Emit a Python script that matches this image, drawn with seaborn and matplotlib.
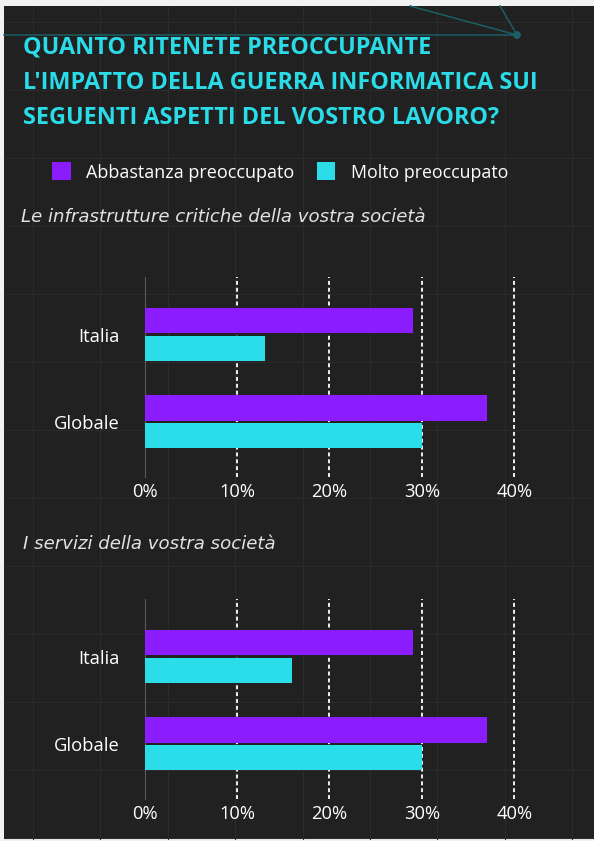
import matplotlib
matplotlib.use("Agg")
import matplotlib.pyplot as plt
from matplotlib.patches import Rectangle, Circle
import seaborn as sns
import pandas as pd

# ---- data ----
regions = ["Italia", "Globale"]
levels = ["Abbastanza preoccupato", "Molto preoccupato"]
infra_abbastanza = [29, 37]
infra_molto = [13, 30]
servizi_abbastanza = [29, 37]
servizi_molto = [16, 30]
xticks = [0, 10, 20, 30, 40]
xtick_labels = ["0%", "10%", "20%", "30%", "40%"]
title_lines = ["QUANTO RITENETE PREOCCUPANTE",
               "L'IMPATTO DELLA GUERRA INFORMATICA SUI",
               "SEGUENTI ASPETTI DEL VOSTRO LAVORO?"]
subtitles = ["Le infrastrutture critiche della vostra società",
             "I servizi della vostra società"]

PURPLE = "#8B1CFD"
CYAN = "#2BDDE9"
BG = "#212121"
FONT = ["Open Sans", "DejaVu Sans"]
plt.rcParams["font.family"] = FONT

W, H = 594, 841
fig = plt.figure(figsize=(W / 100, H / 100), dpi=100)
fig.patch.set_facecolor("#f2f2f2")

# background panel in pixel coordinates
bg = fig.add_axes([0, 0, 1, 1])
bg.set_xlim(0, W)
bg.set_ylim(H, 0)
bg.axis("off")
bg.add_patch(Rectangle((4, 6), W - 4, H - 8, facecolor=BG, edgecolor="none", zorder=0))
for gx in [33, 100, 168, 235, 303, 370, 437, 505, 572]:
    bg.plot([gx, gx], [6, H - 2], color="#2b2b2b", lw=0.8, zorder=1)
for gy in [22, 90, 158, 226, 294, 362, 430, 498, 566, 634, 702, 770, 838]:
    bg.plot([4, W], [gy, gy], color="#2b2b2b", lw=0.8, zorder=1)
# decorative teal lines
teal = "#1b5f64"
bg.plot([4, 517], [35, 35], color=teal, lw=1.1, zorder=2)
bg.plot([410, 517], [6, 35], color=teal, lw=1.1, zorder=2)
bg.plot([500, 517], [6, 35], color=teal, lw=1.1, zorder=2)
bg.add_patch(Circle((517, 35), 3.2, color=teal, zorder=3))

# title
for i, line in enumerate(title_lines):
    bg.text(23, 53.5 + 35.2 * i, line, color="#2ADCE8", fontsize=16.8,
            fontweight="bold", va="baseline", ha="left", zorder=5)

# legend
bg.add_patch(Rectangle((52, 162), 19, 18, facecolor=PURPLE, edgecolor="none", zorder=5))
bg.text(86, 177.7, levels[0], color="white", fontsize=13, va="baseline", ha="left", zorder=5)
bg.add_patch(Rectangle((317, 162), 18, 18, facecolor=CYAN, edgecolor="none", zorder=5))
bg.text(351, 177.7, levels[1], color="white", fontsize=12.8, va="baseline", ha="left", zorder=5)

# subtitles
sub_font = ["DejaVu Sans"]
bg.text(21, 221.7, subtitles[0], color="#e2e2e2", fontsize=13.1, style="italic",
        family=sub_font, va="baseline", ha="left", zorder=5)
bg.text(23, 549, subtitles[1], color="#e2e2e2", fontsize=13.1, style="italic",
        family=sub_font, va="baseline", ha="left", zorder=5)


def draw_panel(top_px, abb, molto):
    left_px, right_px = 144.5, 514.3
    h_px = 200
    ax = fig.add_axes([left_px / W, 1 - (top_px + h_px) / H,
                       (right_px - left_px) / W, h_px / H])
    df = pd.DataFrame({
        "region": regions * 2,
        "level": [levels[0]] * len(regions) + [levels[1]] * len(regions),
        "value": list(abb) + list(molto),
    })
    sns.barplot(data=df, x="value", y="region", hue="level", orient="h",
                palette=[PURPLE, CYAN], saturation=1, width=0.64, gap=0.09,
                linewidth=0, legend=False, ax=ax, zorder=3)
    ax.set_facecolor("none")
    ax.set_xlim(0, 40)
    ax.set_ylim(1.634, -0.663)
    ax.set_xticks(xticks)
    ax.set_xticklabels(xtick_labels)
    ax.set_xlabel("")
    ax.set_ylabel("")
    for t in xticks[1:]:
        ax.axvline(t, color="white", lw=1.3, ls=(0, (2.2, 1.6)), zorder=2, clip_on=False)
    for s in ["top", "right", "bottom"]:
        ax.spines[s].set_visible(False)
    ax.spines["left"].set_color("#5a5a5a")
    ax.spines["left"].set_linewidth(0.8)
    ax.tick_params(axis="both", length=0, colors="white", labelsize=13.2)
    ax.tick_params(axis="y", pad=18)
    ax.tick_params(axis="x", pad=4)
    return ax


draw_panel(277, infra_abbastanza, infra_molto)
draw_panel(599, servizi_abbastanza, servizi_molto)

fig.savefig("out.png", dpi=100, facecolor=fig.get_facecolor())
